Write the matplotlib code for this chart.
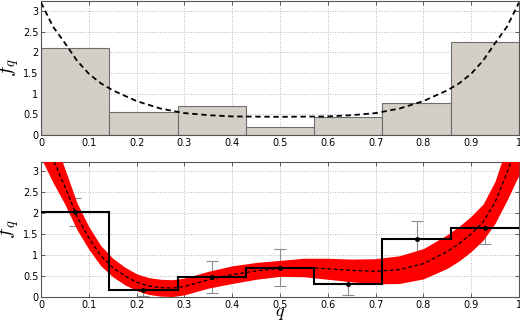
import numpy as np
import matplotlib
matplotlib.use("Agg")
import matplotlib.pyplot as plt

plt.rcParams["mathtext.fontset"] = "cm"

# Histogram of the true frequencies (top panel), 7 bins on [0, 1]
bin_edges = [0, 1/7, 2/7, 3/7, 4/7, 5/7, 6/7, 1]
f_true = [2.10, 0.56, 0.70, 0.20, 0.43, 0.77, 2.25]

# Underlying density (dashed, top panel)
q_true = [0.0, 0.025, 0.05, 0.075, 0.1, 0.125, 0.15, 0.2, 0.25, 0.3, 0.35, 0.4,
          0.5, 0.6, 0.65, 0.7, 0.75, 0.8, 0.85, 0.875, 0.9, 0.925, 0.95, 0.975, 1.0]
dens_true = [3.20, 2.62, 2.22, 1.80, 1.48, 1.25, 1.08, 0.82, 0.64, 0.53, 0.48, 0.45,
             0.44, 0.45, 0.48, 0.53, 0.64, 0.82, 1.08, 1.25, 1.48, 1.80, 2.22, 2.62, 3.20]

# Estimated frequencies with error bars (bottom panel)
f_hat = [2.02, 0.16, 0.47, 0.70, 0.30, 1.38, 1.63]
f_err = [0.33, 0.14, 0.38, 0.44, 0.25, 0.43, 0.38]

# Fitted density (dashed) and its confidence band (red)
q_fit = [0.0, 0.025, 0.05, 0.075, 0.1, 0.125, 0.15, 0.175, 0.2, 0.225, 0.25, 0.275,
         0.3, 0.35, 0.4, 0.45, 0.5, 0.55, 0.6, 0.65, 0.7, 0.75, 0.8, 0.85, 0.875,
         0.9, 0.925, 0.95, 0.975, 1.0]
dens_fit = [4.05, 3.27, 2.62, 1.92, 1.40, 0.98, 0.70, 0.50, 0.35, 0.26, 0.22, 0.21,
            0.25, 0.41, 0.53, 0.62, 0.68, 0.70, 0.67, 0.63, 0.61, 0.65, 0.79, 1.08, 1.27,
            1.50, 1.78, 2.25, 2.95, 3.75]
band_lo = [3.30, 2.72, 2.20, 1.60, 1.13, 0.74, 0.48, 0.29, 0.15, 0.06, 0.02, 0.01,
           0.05, 0.21, 0.32, 0.42, 0.49, 0.48, 0.42, 0.36, 0.31, 0.32, 0.43, 0.68, 0.86,
           1.08, 1.35, 1.75, 2.30, 2.90]
band_hi = [4.80, 3.82, 3.04, 2.24, 1.67, 1.22, 0.92, 0.71, 0.55, 0.46, 0.42, 0.41,
           0.45, 0.61, 0.74, 0.82, 0.87, 0.92, 0.92, 0.90, 0.91, 0.98, 1.15, 1.48, 1.68,
           1.92, 2.21, 2.75, 3.60, 4.60]

x_ticks = [0, 0.1, 0.2, 0.3, 0.4, 0.5, 0.6, 0.7, 0.8, 0.9, 1]
x_labels = ["0", "0.1", "0.2", "0.3", "0.4", "0.5", "0.6", "0.7", "0.8", "0.9", "1"]
y_ticks = [0, 0.5, 1, 1.5, 2, 2.5, 3]
y_labels = ["0", "0.5", "1", "1.5", "2", "2.5", "3"]


def style_axes(ax, ymax):
    # MATLAB-like look: dotted grid, ticks inside on all sides
    ax.set_xlim(0, 1)
    ax.set_ylim(0, ymax)
    ax.set_xticks(x_ticks)
    ax.set_xticklabels(x_labels)
    ax.set_yticks(y_ticks)
    ax.set_yticklabels(y_labels)
    ax.tick_params(direction="in", length=3, width=0.6, labelsize=7,
                   top=True, right=True, pad=2, colors="#444444", labelcolor="black")
    ax.grid(True, linestyle=":", linewidth=0.7, color="#b8b8b8")
    ax.set_axisbelow(True)
    for s in ax.spines.values():
        s.set_color("#555555")
        s.set_linewidth(0.8)


fig = plt.figure(figsize=(5.2, 3.2), dpi=100)

# Top panel: histogram + true density
ax1 = fig.add_axes([0.079, 0.578, 0.919, 0.419])
edges = np.array(bin_edges)
centers = (edges[:-1] + edges[1:]) / 2
ax1.bar(centers, f_true, width=np.diff(edges), color="#d3cfc7",
        edgecolor="#6e6e6e", linewidth=0.8, zorder=2)
ax1.plot(q_true, dens_true, "k--", linewidth=1.3, dashes=(3, 2), zorder=3)
style_axes(ax1, 3.24)
ax1.set_ylabel("$f_q$", fontsize=15)
ax1.yaxis.set_label_coords(-0.042, 0.5)

# Bottom panel: estimate, error bars and fitted band
ax2 = fig.add_axes([0.079, 0.072, 0.919, 0.422])
ax2.errorbar(centers, f_hat, yerr=f_err, fmt="none", ecolor="#8c8c8c",
             elinewidth=0.8, capsize=4, capthick=0.8, zorder=2)
ax2.fill_between(q_fit, band_lo, band_hi, color="#ff0000", linewidth=0, zorder=3)
ax2.plot(q_fit, dens_fit, "k--", linewidth=0.9, dashes=(3, 2), zorder=4)
ax2.stairs(f_hat, edges, baseline=None, color="black", linewidth=1.5, zorder=5)
ax2.plot(centers, f_hat, "o", color="black", markersize=2.5, zorder=6)
style_axes(ax2, 3.21)
ax2.set_ylabel(r"$\hat{f}_q$", fontsize=15)
ax2.yaxis.set_label_coords(-0.042, 0.5)

# x label sits just under the tick labels, centred on the axis
fig.text(0.079 + 0.919 / 2, 0.014, "$q$", fontsize=13, ha="center", va="baseline")

fig.savefig("out.png", dpi=100)
